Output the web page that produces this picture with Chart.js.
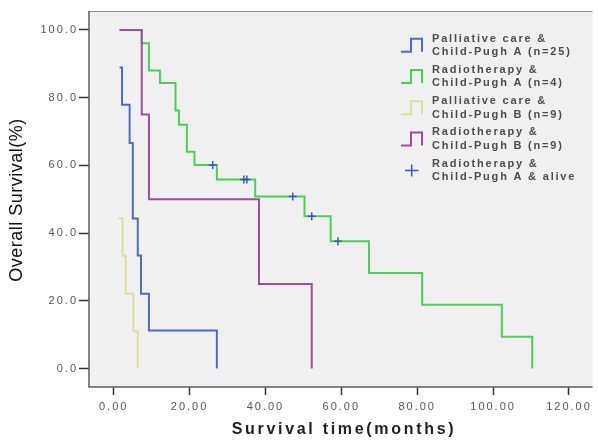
<!DOCTYPE html>
<html><head><meta charset="utf-8">
<script src="https://cdn.jsdelivr.net/npm/chart.js@4/dist/chart.umd.min.js"></script>
<style>html,body{margin:0;padding:0;background:#fff}#wrap{width:598px;height:441px;position:relative}</style>
</head><body><div id="wrap"><canvas id="c"></canvas></div>
<script>
// ---- data ----
const seriesNames = [
  ["Palliative care &", "Child-Pugh A (n=25)"],
  ["Radiotherapy &", "Child-Pugh A (n=4)"],
  ["Palliative care &", "Child-Pugh B (n=9)"],
  ["Radiotherapy &", "Child-Pugh B (n=9)"],
  ["Radiotherapy &", "Child-Pugh A & alive"]
];
const palAtimes = [1.56, 2.2, 4.2, 5.05, 6.35, 7.2, 9.3, 27.2];
const palAsurv  = [88.9, 77.9, 66.6, 44.3, 33.4, 22.1, 11.2, 0];
const radAtimes = [1.56, 7.4, 9.3, 12.2, 16.3, 17.2, 19.3, 21.3, 27.2, 37.3, 50.3, 57.2, 67.3, 81.3, 102.3, 110.3];
const radAsurv  = [100, 96.1, 88.0, 84.3, 76.2, 72.0, 64.0, 60.1, 55.8, 50.8, 45.0, 37.6, 28.2, 18.8, 9.4, 0];
const palBtimes = [1.3, 2.35, 3.2, 5.2, 6.35];
const palBsurv  = [44.4, 33.3, 22.1, 11.0, 0];
const radBtimes = [1.56, 7.4, 9.3, 38.3, 52.2];
const radBsurv  = [100, 75, 50, 25, 0];
const censorTimes = [26.1, 34.3, 35.1, 47.2, 52.2, 59.1];
const censorSurv  = [60.1, 55.8, 55.8, 50.8, 45.0, 37.6];
const xTickValues = [0, 20, 40, 60, 80, 100, 120];
const xTickLabels = ["0.00", "20.00", "40.00", "60.00", "80.00", "100.00", "120.00"];
const yTickValues = [0, 20, 40, 60, 80, 100];
const yTickLabels = ["0.0", "20.0", "40.0", "60.0", "80.0", "100.0"];
const xTitle = "Survival time(months)";
const yTitle = "Overall Survival(%)";

const colors = ["#4f6bc6", "#4fcd5c", "#e0dba0", "#9a4f9c", "#3f55c0"];

const pts = (t, s) => t.map((v, i) => ({x: v, y: s[i]}));
const stepDs = (idx, t, s, order) => ({
  label: seriesNames[idx].join(" "), data: pts(t, s), showLine: true, stepped: 'before',
  borderColor: colors[idx], borderWidth: 2, pointRadius: 0, fill: false, order: order
});

const frameAndBg = {
  id: 'frameAndBg',
  beforeDraw(chart) {
    const ctx = chart.ctx, a = chart.chartArea;
    ctx.save();
    ctx.fillStyle = '#ffffff';
    ctx.fillRect(0, 0, chart.width, chart.height);
    ctx.fillStyle = '#f0f0f0';
    ctx.fillRect(a.left, a.top, a.right - a.left, a.bottom - a.top);
    ctx.restore();
    ctx.letterSpacing = '2px';
  },
  beforeDatasetsDraw(chart) {
    const ctx = chart.ctx, a = chart.chartArea;
    ctx.save();
    ctx.strokeStyle = '#8c8c8c'; ctx.lineWidth = 1;
    ctx.beginPath(); ctx.moveTo(a.left, a.top + 0.5); ctx.lineTo(a.right, a.top + 0.5); ctx.stroke();
    ctx.strokeStyle = '#5c5c5c'; ctx.lineWidth = 1.5;
    ctx.beginPath(); ctx.moveTo(a.left, a.top); ctx.lineTo(a.left, a.bottom); ctx.lineTo(a.right, a.bottom); ctx.stroke();
    ctx.restore();
  },
  afterDraw(chart) {
    const ctx = chart.ctx;
    ctx.save();
    // legend
    ctx.letterSpacing = '1.8px';
    ctx.font = 'bold 11px "Liberation Sans", Arial, sans-serif';
    ctx.fillStyle = '#4d4d4d';
    ctx.textBaseline = 'alphabetic';
    ctx.textAlign = 'left';
    for (let i = 0; i < seriesNames.length; i++) {
      const b1 = 41.5 + 31.3 * i, b2 = b1 + 13.5;
      ctx.fillText(seriesNames[i][0], 432, b1);
      ctx.fillText(seriesNames[i][1], 432, b2);
      const cy = b1 + 3.7;
      ctx.strokeStyle = colors[i];
      ctx.lineWidth = 2;
      ctx.beginPath();
      if (i < 4) {
        ctx.moveTo(401, cy + 6.5); ctx.lineTo(411, cy + 6.5); ctx.lineTo(411, cy - 6.5);
        ctx.lineTo(422, cy - 6.5); ctx.lineTo(422, cy + 6.5);
      } else {
        ctx.lineWidth = 1.5;
        ctx.moveTo(405, cy); ctx.lineTo(418.5, cy);
        ctx.moveTo(411.7, cy - 6); ctx.lineTo(411.7, cy + 6);
      }
      ctx.stroke();
    }
    // x title
    ctx.letterSpacing = '2.7px';
    ctx.font = 'bold 16px "Liberation Sans", Arial, sans-serif';
    ctx.fillStyle = '#222';
    ctx.textAlign = 'center';
    ctx.fillText(xTitle, 344, 434);
    // y title
    ctx.letterSpacing = '0.5px';
    ctx.font = '18px "Liberation Sans", Arial, sans-serif';
    ctx.fillStyle = '#111';
    ctx.translate(17, 200);
    ctx.rotate(-Math.PI / 2);
    ctx.textBaseline = 'middle';
    ctx.fillText(yTitle, 0, 0);
    ctx.restore();
    ctx.letterSpacing = '0px';
  }
};

new Chart(document.getElementById('c'), {
  type: 'scatter',
  data: {
    datasets: [
      stepDs(0, palAtimes, palAsurv, 2),
      stepDs(1, radAtimes, radAsurv, 4),
      stepDs(2, palBtimes, palBsurv, 3),
      stepDs(3, radBtimes, radBsurv, 1),
      { label: seriesNames[4].join(" "), data: pts(censorTimes, censorSurv), showLine: false,
        pointStyle: 'cross', pointRadius: 4, pointBorderWidth: 1.5, borderColor: colors[4],
        pointBorderColor: colors[4], order: 0 }
    ]
  },
  options: {
    responsive: true, maintainAspectRatio: false, animation: false,
    layout: { padding: { top: 11, right: 0, left: 0, bottom: 0 } },
    plugins: { legend: { display: false }, tooltip: { enabled: false } },
    scales: {
      x: {
        type: 'linear', min: -6.5, max: 126.2,
        afterBuildTicks(s) { s.ticks = xTickValues.map(v => ({value: v})); },
        afterFit(s) { s.height = 54; },
        ticks: { callback: (v, i) => xTickLabels[i], color: '#555', padding: 5, maxRotation: 0, autoSkip: false,
                 font: { family: '"Liberation Sans", Arial, sans-serif', size: 11 } },
        grid: { display: true, drawOnChartArea: false, drawTicks: true, tickLength: 8, tickColor: '#333', tickWidth: 1.5 },
        border: { display: false }
      },
      y: {
        type: 'linear', min: -5.46, max: 105.6,
        afterBuildTicks(s) { s.ticks = yTickValues.map(v => ({value: v})); },
        afterFit(s) { s.width = 89; },
        ticks: { callback: (v, i) => yTickLabels[i], color: '#555', padding: 1, autoSkip: false,
                 font: { family: '"Liberation Sans", Arial, sans-serif', size: 11 } },
        grid: { display: true, drawOnChartArea: false, drawTicks: true, tickLength: 10, tickColor: '#333', tickWidth: 1.5 },
        border: { display: false }
      }
    }
  },
  plugins: [frameAndBg]
});
</script>
</body></html>
